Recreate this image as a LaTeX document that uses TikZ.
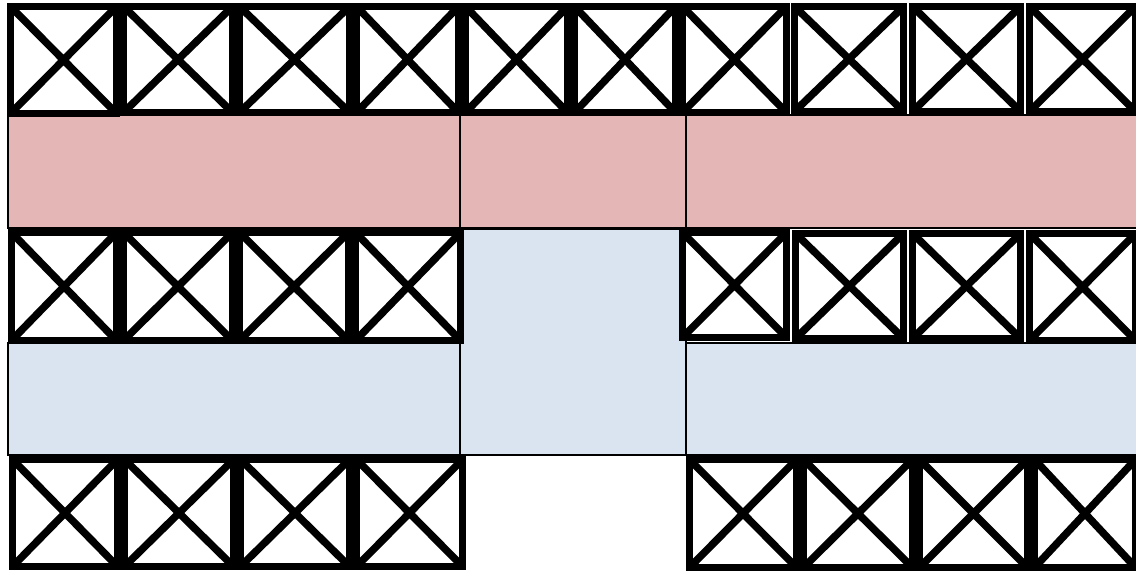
\documentclass[tikz,border=0pt]{standalone}
\definecolor{pinkband}{RGB}{228,182,182}
\definecolor{blueband}{RGB}{218,228,240}
\tikzset{
  xbox/.style={draw=black, fill=white, line width=7pt, inner sep=0pt, outer sep=0pt,
    path picture={\draw[line width=7.5pt]
      (path picture bounding box.north west) -- (path picture bounding box.south east)
      (path picture bounding box.south west) -- (path picture bounding box.north east);}},
  band/.style={draw=black, line width=1.3pt},
}
% #1 name, #2 x1, #3 y1, #4 x2, #5 y2 (outer edges, px)
\newcommand\xcell[5]{\node[xbox, minimum width={(#4-#2-7)*1pt}, minimum height={(#5-#3-7)*1pt}] (#1) at ({(#2+#4)/2},{(#3+#5)/2}) {};}
\begin{document}
\begin{tikzpicture}[x=1pt,y=-1pt]
\useasboundingbox (0,0) rectangle (1136,572);
% pink bands
\draw[band, fill=pinkband] (8,115) rectangle (460,228);
\draw[band, fill=pinkband] (460,115) rectangle (686,228);
\draw[band, fill=pinkband] (686,115) rectangle (1140,228);
% blue bands
\draw[band, fill=blueband] (8,343) rectangle (460,455);
\draw[band, fill=blueband] (460,229) rectangle (686,455);
\draw[band, fill=blueband] (686,343) rectangle (1140,455);
% top row
\xcell{t1}{7}{3}{120}{117}
\xcell{t2}{120}{3}{236}{116}
\xcell{t3}{236}{3}{353}{116}
\xcell{t4}{353}{3}{462}{116}
\xcell{t5}{462}{3}{571}{116}
\xcell{t6}{571}{3}{679}{116}
\xcell{t7}{679}{3}{790}{116}
\xcell{t8}{791}{3}{907}{115}
\xcell{t9}{909}{3}{1024}{115}
\xcell{t10}{1026}{3}{1139}{115}
% middle row
\xcell{m1}{8}{229}{120}{344}
\xcell{m2}{120}{229}{236}{344}
\xcell{m3}{236}{229}{352}{344}
\xcell{m4}{352}{229}{464}{344}
\xcell{m5}{679}{229}{790}{341}
\xcell{m6}{792}{230}{907}{342}
\xcell{m7}{909}{230}{1024}{342}
\xcell{m8}{1026}{230}{1139}{344}
% bottom row
\xcell{b1}{9}{456}{121}{570}
\xcell{b2}{121}{456}{237}{570}
\xcell{b3}{237}{456}{353}{570}
\xcell{b4}{353}{456}{466}{570}
\xcell{b5}{686}{456}{800}{571}
\xcell{b6}{800}{456}{916}{571}
\xcell{b7}{916}{456}{1031}{571}
\xcell{b8}{1031}{456}{1139}{571}
\end{tikzpicture}
\end{document}
